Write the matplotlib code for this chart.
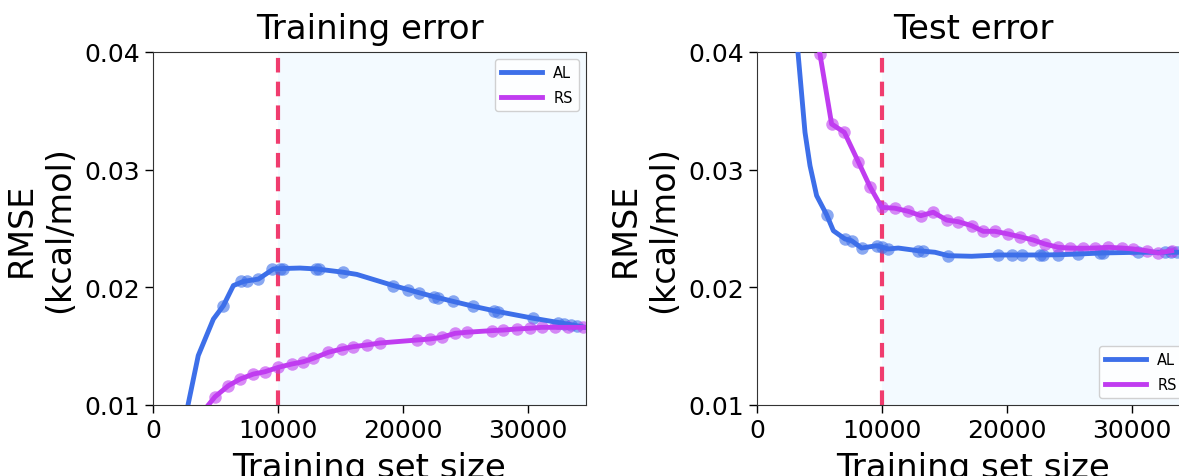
import matplotlib
matplotlib.use("Agg")
import matplotlib.pyplot as plt

# ---------------- data ----------------
train_al_x = [2800, 3620, 4830, 5630, 6430, 7230, 8430, 9630, 10430, 11760, 13100,
              15230, 16300, 19230, 20430, 21360, 22700, 24030, 25630, 27500, 30430,
              32830, 34560]
train_al_y = [0.0100, 0.0142, 0.0173, 0.01844, 0.02015, 0.0205, 0.0207, 0.02156, 0.0216,
              0.02164, 0.02156, 0.02128, 0.0211, 0.02015, 0.0198, 0.01952, 0.01915,
              0.0188, 0.01839, 0.01796, 0.01737, 0.01694, 0.0166]
train_al_mx = [5630, 7000, 7500, 8430, 9530, 10150, 10430, 13000, 13300, 15230, 19230,
               20430, 21300, 22500, 22800, 24030, 25630, 27300, 27600, 30430, 32400,
               32900, 33400, 33900]
train_al_my = [0.01844, 0.0205, 0.0205, 0.0207, 0.02156, 0.0216, 0.0216, 0.0216, 0.02156,
               0.02128, 0.02015, 0.0198, 0.01955, 0.0192, 0.01912, 0.0188, 0.01839,
               0.018, 0.01794, 0.01737, 0.01697, 0.0169, 0.01683, 0.01672]

train_rs_x = [4430, 4960, 6030, 6960, 8030, 8960, 10030, 11090, 12030, 12830, 14030,
              15090, 16030, 17090, 18160, 21090, 22160, 23090, 24160, 25090, 27090,
              28030, 29090, 30160, 31090, 32160, 33230, 34430]
train_rs_y = [0.0100, 0.0107, 0.01164, 0.0122, 0.01263, 0.01283, 0.0132, 0.01348, 0.01368,
              0.01397, 0.01448, 0.01476, 0.01496, 0.0151, 0.01527, 0.01552, 0.01561,
              0.01575, 0.01609, 0.01618, 0.01632, 0.01637, 0.01646, 0.01652, 0.0166,
              0.0166, 0.0166, 0.0166]

test_al_x = [3000, 3250, 3840, 4240, 4770, 5570, 6110, 7040, 7570, 8370, 9570, 10500,
             11300, 12900, 14240, 15300, 17170, 19300, 21170, 22770, 24100, 25700,
             27570, 30500, 33170, 35000]
test_al_y = [0.0450, 0.0403, 0.03317, 0.03034, 0.02779, 0.02617, 0.02481, 0.02411,
             0.02396, 0.02334, 0.02354, 0.02326, 0.02334, 0.02311, 0.02298, 0.02269,
             0.02264, 0.02275, 0.02275, 0.02275, 0.02277, 0.02283, 0.02292, 0.02298,
             0.02298, 0.02298]
test_al_mx = [5570, 7040, 7570, 8370, 9570, 10000, 10500, 12900, 13300, 15300, 19300,
              20400, 21170, 22600, 22900, 24100, 25700, 27400, 27700, 30500, 32600,
              33100, 33600]
test_al_my = [0.02617, 0.02411, 0.02396, 0.02334, 0.02354, 0.02345, 0.02326, 0.02311,
              0.02306, 0.02269, 0.02275, 0.02275, 0.02275, 0.02275, 0.02275, 0.02277,
              0.02283, 0.02292, 0.02292, 0.02298, 0.02298, 0.02298, 0.02298]

test_rs_x = [4300, 5040, 5970, 6990, 8100, 9040, 9970, 11040, 12100, 13100, 14100,
             15170, 16100, 17170, 18100, 19040, 20100, 21040, 22100, 23040, 24100,
             25040, 26100, 27040, 28100, 29170, 30100, 31170, 32100, 33170]
test_rs_y = [0.0450, 0.0398, 0.03388, 0.03317, 0.03068, 0.02855, 0.0268, 0.02672,
             0.02646, 0.02609, 0.02638, 0.02572, 0.02558, 0.02524, 0.02476, 0.02476,
             0.02453, 0.0243, 0.02402, 0.02368, 0.0234, 0.02334, 0.02332, 0.02334,
             0.0234, 0.02334, 0.02326, 0.02311, 0.02292, 0.02311]

titles = ["Training error", "Test error"]
series_labels = ["AL", "RS"]
yticks = [0.01, 0.02, 0.03, 0.04]
xticks = [0, 10000, 20000, 30000]
split_x = 10000

# ---------------- style ----------------
c_al = "#3d6fe9"
c_rs = "#c03cf0"
c_split = "#f03c6e"
c_shade = "#f3faff"

fig = plt.figure(figsize=(11.79, 4.77), dpi=100)
ax1 = fig.add_axes([153 / 1179, 71 / 477, 433 / 1179, 353 / 477])
ax2 = fig.add_axes([757 / 1179, 71 / 477, 433 / 1179, 353 / 477])


def draw(ax, alx, aly, almx, almy, rsx, rsy, rsmx, rsmy, title, legloc):
    ax.axvspan(split_x, 40000, color=c_shade, zorder=0, lw=0)
    ax.axvline(split_x, color=c_split, lw=3, ls=(0, (3.5, 2.2)), zorder=1)
    ax.plot(almx, almy, "o", color=c_al, alpha=0.6, ms=9, mec="none", zorder=2)
    ax.plot(rsmx, rsmy, "o", color=c_rs, alpha=0.6, ms=9, mec="none", zorder=2)
    ax.plot(alx, aly, "-", color=c_al, lw=3.5, label=series_labels[0], zorder=3)
    ax.plot(rsx, rsy, "-", color=c_rs, lw=3.5, label=series_labels[1], zorder=3)
    ax.set_xlim(0, 34640)
    ax.set_ylim(0.01, 0.04)
    ax.set_xticks(xticks)
    ax.set_yticks(yticks)
    ax.tick_params(labelsize=18, length=6, width=1)
    ax.set_title(title, fontsize=24.5, pad=10)
    ax.set_xlabel("Training set size", fontsize=24.5, labelpad=6)
    ax.set_ylabel("RMSE\n(kcal/mol)", fontsize=24, labelpad=6)
    for s in ax.spines.values():
        s.set_color("#333333")
    ax.legend(loc=legloc, fontsize=10.5, framealpha=0.9, edgecolor="#cccccc",
              handlelength=2.8, labelspacing=0.7)


draw(ax1, train_al_x, train_al_y, train_al_mx, train_al_my,
     train_rs_x, train_rs_y, train_rs_x[1:], train_rs_y[1:], titles[0], "upper right")
draw(ax2, test_al_x, test_al_y, test_al_mx, test_al_my,
     test_rs_x, test_rs_y, test_rs_x[1:], test_rs_y[1:], titles[1], "lower right")

fig.savefig("out.png", dpi=100)
